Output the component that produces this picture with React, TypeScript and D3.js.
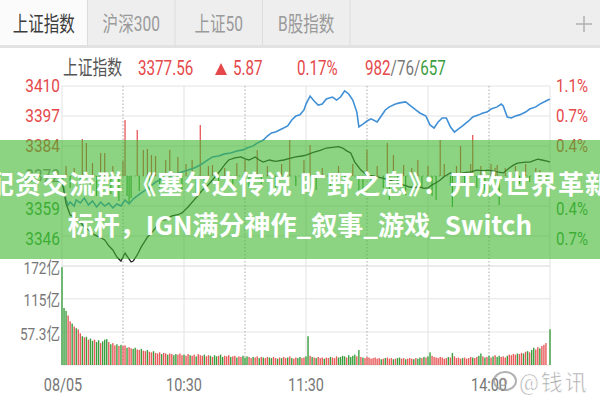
import React from "react";
import * as d3 from "d3";

// ---- data -----------------------------------------------------------
const tabLabels = ["上证指数", "沪深300", "上证50", "B股指数"];

const indexName = "上证指数";
const prevClose = 3371.69;
const lastPrice = 3377.56;
const change = 5.87;
const changePct = "0.17%";
const breadth = { up: "982", flat: "76", down: "657" };

const priceTickLabels = ["3410", "3397", "3384", "3372", "3359", "3346", ""];
const pctTickLabels = ["1.1%", "0.7%", "0.4%", "", "0.4%", "0.7%", ""];
const volumeTicks = [172, 115, 57.3];
const volumeTickLabels = ["172亿", "115亿", "57.3亿"];
const timeTickMinutes = [0, 60, 120, 210];
const timeTickLabels = ["08/05", "10:30", "11:30", "14:00"];

// index price, [minute from 09:30, value]
const indexSeries: [number, number][] = [
  [0, 3369.5], [2, 3360.0], [4, 3355.1], [6, 3354.2], [9, 3352.1], [11, 3350.0],
  [13, 3348.7], [16, 3346.6], [19, 3345.5], [21, 3344.5], [23, 3342.0], [25, 3340.2],
  [27, 3337.2], [29, 3335.5], [31, 3338.9], [32, 3337.6], [34, 3335.1], [35, 3335.5],
  [37, 3338.1], [39, 3341.5], [42, 3345.7], [44, 3347.5], [46, 3349.6], [48, 3353.0],
  [51, 3353.0], [54, 3354.7], [57, 3355.2], [59, 3356.0], [62, 3358.5], [65, 3361.5],
  [67, 3363.5], [69, 3365.7], [72, 3368.0], [74, 3370.0], [76, 3372.0], [78, 3374.2],
  [80, 3376.5], [82, 3378.5], [85, 3379.4], [88, 3379.8], [90, 3379.0], [92, 3378.5],
  [95, 3379.8], [97, 3378.5], [99, 3377.6], [102, 3378.5], [105, 3377.9], [109, 3378.5],
  [112, 3379.2], [115, 3379.8], [118, 3380.2], [120, 3380.6], [122, 3381.2], [124, 3381.9],
  [127, 3382.6], [130, 3383.6], [134, 3384.0], [136, 3384.2], [138, 3383.6], [140, 3382.4],
  [142, 3381.5], [144, 3377.6], [147, 3374.2], [150, 3372.1], [153, 3371.7], [155, 3371.3],
  [158, 3370.7], [161, 3370.0], [164, 3369.0], [166, 3368.3], [169, 3367.6], [171, 3367.0],
  [174, 3366.8], [176, 3367.0], [178, 3366.4], [180, 3366.6], [182, 3367.9], [184, 3368.8],
  [186, 3370.0], [188, 3371.5], [191, 3373.0], [194, 3372.1], [197, 3373.0], [201, 3373.4],
  [204, 3374.2], [207, 3374.0], [210, 3374.2], [214, 3373.4], [217, 3373.0], [220, 3375.1],
  [222, 3376.3], [224, 3377.2], [228, 3377.6], [230, 3377.6], [234, 3378.9], [236, 3378.5],
  [239, 3377.9], [240, 3377.56],
];

// leading (unweighted) line, [minute, value]
const leadSeries: [number, number][] = [
  [0, 3371.7], [1, 3365.7], [2, 3361.5], [3, 3359.3], [4, 3360.6], [6, 3358.9],
  [7, 3361.5], [9, 3360.2], [11, 3362.3], [13, 3359.4], [15, 3361.1], [17, 3358.5],
  [19, 3360.6], [21, 3358.9], [23, 3360.2], [25, 3358.1], [27, 3359.8], [29, 3358.9],
  [31, 3361.5], [33, 3359.8], [35, 3361.9], [37, 3363.2], [39, 3364.5], [41, 3365.7],
  [43, 3367.0], [46, 3369.1], [48, 3370.0], [51, 3370.8], [53, 3371.7], [56, 3372.5],
  [59, 3373.4], [62, 3374.2], [65, 3375.1], [68, 3376.4], [71, 3378.1], [74, 3379.8],
  [77, 3380.2], [80, 3381.1], [83, 3381.5], [86, 3382.3], [89, 3382.8], [91, 3383.6],
  [94, 3384.5], [96, 3385.7], [99, 3387.0], [101, 3388.7], [103, 3390.0], [105, 3390.4],
  [107, 3391.3], [109, 3392.1], [111, 3393.0], [113, 3395.5], [115, 3397.2], [117, 3397.7],
  [119, 3399.8], [120, 3402.3], [122, 3405.7], [124, 3403.6], [126, 3401.9], [128, 3402.3],
  [130, 3404.5], [133, 3405.3], [135, 3404.0], [137, 3405.3], [139, 3407.9], [141, 3406.6],
  [143, 3404.0], [145, 3398.9], [146, 3392.6], [148, 3393.8], [150, 3395.1], [152, 3396.0],
  [155, 3394.7], [157, 3397.2], [159, 3399.8], [161, 3401.1], [164, 3402.3], [166, 3402.8],
  [169, 3403.2], [171, 3401.9], [174, 3399.8], [176, 3398.5], [179, 3397.2], [181, 3393.4],
  [183, 3392.1], [185, 3394.7], [187, 3396.4], [189, 3396.4], [191, 3392.6], [193, 3390.4],
  [195, 3391.7], [197, 3393.0], [200, 3395.1], [202, 3396.8], [205, 3397.7], [207, 3398.5],
  [209, 3398.9], [211, 3400.2], [214, 3401.1], [216, 3402.3], [217, 3401.5], [219, 3396.8],
  [221, 3396.4], [223, 3397.2], [225, 3397.7], [228, 3398.9], [230, 3400.2], [233, 3401.1],
  [235, 3402.3], [237, 3403.2], [239, 3404.0], [240, 3404.4],
];

// buy/sell strength bars, [minute, value]
const strengthBars: [number, number][] = [
  [2, 10], [4, -12], [6, 8], [9, -15], [10, 37], [12, 33], [14, -10], [15, 13], [17, -20],
  [19, 23], [21, 23], [24, -18], [25, 10], [28, -25], [30, 15], [31, 56], [32, -20], [33, -28],
  [34, -22], [37, 46], [38, -15], [40, 26], [42, 27], [43, -14], [44, 21], [46, 20], [48, -12],
  [51, 16], [53, 26], [55, -10], [57, 19], [59, -14], [61, 12], [64, 16], [66, -20], [68, 51],
  [70, -12], [72, 10], [74, 11], [77, -15], [80, 8], [84, -10], [86, 13], [90, 16], [92, -12],
  [96, 26], [98, -8], [101, 10], [105, -14], [108, 12], [112, 36], [115, -10], [119, 16],
  [122, 31], [125, -14], [128, 8], [132, -10], [136, 10], [139, -8], [143, 12], [146, -16],
  [148, -19], [150, 26], [152, -10], [155, 10], [158, -12], [160, 33], [161, -24], [163, 21],
  [165, -8], [168, 11], [169, -19], [172, 8], [175, 16], [177, -12], [180, 10], [182, -20],
  [184, -24], [186, 36], [188, 12], [191, -10], [192, -31], [194, 10], [196, 30], [198, -8],
  [201, 12], [202, 41], [204, -12], [206, 10], [208, -15], [211, 12], [213, 8], [214, 11],
  [215, -29], [218, 8], [220, -10], [223, 10], [225, -8], [228, 12], [230, -6], [233, 8],
  [235, 6], [238, -5],
];

// per-minute turnover (亿), 241 minutes
const volumeValues = [
  170, 99, 94, 86, 76, 72, 67, 64, 62, 55,
  50, 48, 49, 44, 46, 42, 44, 40, 43, 38,
  41, 44, 45, 40, 36, 38, 34, 36, 33, 35,
  33, 34, 30, 31, 29, 28, 30, 27, 26, 28,
  25, 24, 26, 23, 22, 24, 21, 20, 22, 19,
  21, 20, 18, 20, 19, 17, 19, 18, 20, 17,
  18, 16, 19, 17, 16, 18, 15, 19, 17, 16,
  18, 15, 17, 16, 14, 17, 15, 16, 18, 14,
  16, 15, 17, 14, 15, 16, 13, 15, 14, 16,
  13, 15, 14, 12, 14, 13, 15, 12, 14, 13,
  12, 14, 13, 12, 14, 12, 11, 13, 12, 14,
  12, 13, 15, 12, 11, 13, 12, 14, 12, 13,
  15, 50, 16, 14, 13, 12, 14, 12, 13, 11,
  13, 12, 14, 13, 12, 15, 13, 14, 16, 15,
  13, 17, 14, 16, 18, 15, 26, 14, 13, 12,
  14, 13, 11, 12, 13, 11, 12, 10, 11, 12,
  13, 11, 12, 10, 11, 12, 13, 11, 12, 10,
  11, 12, 11, 10, 12, 11, 13, 12, 14, 13,
  15, 22, 16, 14, 13, 12, 14, 13, 11, 12,
  14, 13, 21, 15, 12, 13, 11, 12, 13, 11,
  12, 14, 13, 12, 14, 16, 20, 15, 13, 14,
  16, 13, 15, 17, 14, 16, 14, 15, 13, 16,
  18, 17, 19, 18, 20, 19, 21, 20, 23, 24,
  22, 26, 30, 27, 31, 29, 33, 35, 38, 0,
  62,
];
// r = up minute, g = down minute
const volumeSides =
  "gggrrgrgrr" + "grgrggrggr" + "gggrgrrgrg" + "rrgrrggrrg" + "rrgrrgrrrg" +
  "rrgrrggrrr" + "grrgrrgrrr" + "grrgrggrgg" + "rrrgrrgrrg" + "ggrrgrrgrg" +
  "rrggrrgrgr" + "rgrgrrggrr" + "ggrgrgrrrg" + "rrgrrrgggg" + "rggggrgrgr" +
  "rrrrrrrgrg" + "rrrgrggrrg" + "rrrgrggrgr" + "ggrrrrrrrr" + "grgrrrrgrr" +
  "rrgrrggrgr" + "grgrggrrrg" + "rrrrgrrgrg" + "rggrrgrrrr" + "g";

const bannerLines = [
  "配资交流群 《塞尔达传说 旷野之息》：开放世界革新",
  "标杆，IGN满分神作_叙事_游戏_Switch",
];

// ---- layout ---------------------------------------------------------
const W = 600;
const H = 400;
const left = 62;
const right = 550;
const priceTop = 86;
const priceBottom = 266;
const volBottom = 365;

const RED = "#e5484a";
const GREEN = "#3a9e3e";
const FONT = "Roboto, 'Noto Sans CJK SC', sans-serif";

type NTProps = {
  x: number;
  y: number;
  sx?: number;
  size: number;
  fill: string;
  anchor?: "start" | "middle" | "end";
  weight?: number | string;
  children: React.ReactNode;
};

// text squeezed horizontally, like the app's narrow UI font
const NText = ({ x, y, sx = 0.76, size, fill, anchor = "start", weight, children }: NTProps) => (
  <text
    transform={`translate(${x},${y}) scale(${sx},1)`}
    fontSize={size}
    fill={fill}
    textAnchor={anchor}
    dominantBaseline="central"
    fontWeight={weight}
  >
    {children}
  </text>
);

export default function App() {
  const x = d3.scaleLinear().domain([0, 240]).range([left, right]);
  const span = 38.3;
  const yPrice = d3
    .scaleLinear()
    .domain([prevClose - span, prevClose + span])
    .range([priceBottom, priceTop]);
  const yStrength = d3.scaleLinear().domain([-90, 90]).range([priceBottom, priceTop]);
  const yVol = d3.scaleLinear().domain([0, 172]).range([volBottom, priceBottom]);

  const gridValues = d3.range(7).map((i) => prevClose + span - (i * span) / 3);
  const line = d3
    .line<[number, number]>()
    .x((d) => x(d[0]))
    .y((d) => yPrice(d[1]));

  const vMinutes = d3.range(0, 241, 30);
  const dotted = new Set([30, 90, 150, 210]);

  const tabW = 87.5;

  return (
    <svg
      width={W}
      height={H}
      viewBox={`0 0 ${W} ${H}`}
      style={{ position: "fixed", left: 0, top: 0, display: "block", background: "#fff" }}
      fontFamily={FONT}
    >
      <rect x={0} y={0} width={W} height={H} fill="#fff" />

      {/* tab bar */}
      <rect x={0} y={0} width={W} height={45} fill="#eeeeee" />
      <rect x={0} y={0} width={tabW} height={45} fill="#fbfbfb" />
      <rect x={0} y={45} width={W} height={3} fill="#e2e2e2" />
      {tabLabels.map((t, i) => (
        <g key={t}>
          <line x1={tabW * (i + 1)} x2={tabW * (i + 1)} y1={0} y2={45} stroke="#dcdcdc" />
          <NText x={tabW * i + tabW / 2} y={24} sx={0.74} size={21} fill={i === 0 ? "#3c3c3c" : "#9a9a9a"} anchor="middle">
            {t}
          </NText>
        </g>
      ))}
      <line x1={576} x2={592} y1={24} y2={24} stroke="#b0b0b0" strokeWidth={1.5} />
      <line x1={584} x2={584} y1={16} y2={32} stroke="#b0b0b0" strokeWidth={1.5} />

      {/* quote header */}
      <NText x={63} y={68} sx={0.74} size={20} fill="#555">{indexName}</NText>
      <NText x={138} y={68} sx={0.76} size={20} fill={RED}>{lastPrice.toFixed(2)}</NText>
      <path d="M215,75 L227,75 L221,63 Z" fill={RED} />
      <NText x={233} y={68} sx={0.76} size={20} fill={RED}>{change.toFixed(2)}</NText>
      <NText x={297} y={68} sx={0.76} size={20} fill={RED}>{changePct}</NText>
      <text transform="translate(365,68) scale(0.76,1)" fontSize={20} dominantBaseline="central">
        <tspan fill={RED}>{breadth.up}</tspan>
        <tspan fill="#777">/{breadth.flat}/</tspan>
        <tspan fill={GREEN}>{breadth.down}</tspan>
      </text>

      {/* price panel grid */}
      {gridValues.map((v, i) => (
        <line
          key={`h${i}`}
          x1={left}
          x2={right}
          y1={yPrice(v)}
          y2={yPrice(v)}
          stroke={i === 3 ? "#bbb" : "#e4e4e4"}
          strokeDasharray={i === 3 ? "2,2" : undefined}
        />
      ))}
      {volumeTicks.map((v) => (
        <line key={`vh${v}`} x1={left} x2={right} y1={yVol(v)} y2={yVol(v)} stroke="#e4e4e4" />
      ))}
      <line x1={left} x2={right} y1={volBottom} y2={volBottom} stroke="#e4e4e4" />
      {vMinutes.map((m) => (
        <line
          key={`v${m}`}
          x1={x(m)}
          x2={x(m)}
          y1={priceTop}
          y2={volBottom}
          stroke={dotted.has(m) ? "#aaa" : "#e2e2e2"}
          strokeDasharray={dotted.has(m) ? "1.5,2" : undefined}
        />
      ))}

      {/* strength bars */}
      {strengthBars.map(([m, v]) => (
        <line
          key={`s${m}`}
          x1={x(m)}
          x2={x(m)}
          y1={yStrength(0)}
          y2={yStrength(v)}
          stroke={v >= 0 ? RED : GREEN}
          strokeWidth={1.2}
        />
      ))}

      {/* lines */}
      <path d={line(leadSeries) ?? ""} fill="none" stroke="#3f8fd6" strokeWidth={1.6} />
      <path d={line(indexSeries) ?? ""} fill="none" stroke="#262626" strokeWidth={1.3} />

      {/* volume bars */}
      {volumeValues.map((v, i) =>
        v > 0 ? (
          <rect
            key={`vb${i}`}
            x={x(i) - 0.7}
            y={yVol(v)}
            width={1.4}
            height={yVol(0) - yVol(v)}
            fill={volumeSides[i] === "r" ? "#e85a5a" : GREEN}
          />
        ) : null
      )}

      {/* axis labels */}
      {gridValues.map((v, i) => {
        const yy = yPrice(v) + (i > 3 ? 3 : 0);
        const color = i < 3 ? RED : i > 3 ? GREEN : "#888";
        return (
          <g key={`pl${i}`}>
            {priceTickLabels[i] && (
              <NText x={60} y={yy} sx={0.86} size={18} fill={color} anchor="end">
                {priceTickLabels[i]}
              </NText>
            )}
            {pctTickLabels[i] && (
              <NText x={556} y={yy} sx={0.84} size={18} fill={color}>
                {pctTickLabels[i]}
              </NText>
            )}
          </g>
        );
      })}
      {volumeTicks.map((v, i) => (
        <NText key={`vl${v}`} x={60} y={yVol(v) + 2} sx={0.8} size={17} fill="#777" anchor="end">
          {volumeTickLabels[i]}
        </NText>
      ))}
      {timeTickMinutes.map((m, i) => (
        <NText key={`t${m}`} x={x(m) + (i === 0 ? 1 : 0)} y={384} sx={0.76} size={19} fill="#777" anchor="middle">
          {timeTickLabels[i]}
        </NText>
      ))}

      {/* weibo watermark */}
      <g opacity={0.75}>
        <ellipse cx={505} cy={381} rx={11} ry={9} fill="none" stroke="#999" strokeWidth={2} />
        <circle cx={503} cy={382} r={3.5} fill="none" stroke="#999" strokeWidth={1.5} />
        <text
          x={519}
          y={382}
          fontSize={22}
          fill="#8a8a8a"
          stroke="#fff"
          strokeWidth={0.6}
          letterSpacing={2}
          dominantBaseline="central"
        >
          @钱讯
        </text>
      </g>

      {/* caption banner */}
      <rect x={0} y={140} width={W} height={119} fill="rgb(63,183,47)" opacity={0.6} />
      {bannerLines.map((t, i) => (
        <text
          key={`b${i}`}
          x={300}
          y={182 + i * 41}
          fontSize={26}
          fontWeight={700}
          fill="#fff"
          textAnchor="middle"
          letterSpacing={i === 0 ? 1.1 : 0}
          dominantBaseline="central"
          fontFamily="'Noto Sans CJK SC', sans-serif"
        >
          {t}
        </text>
      ))}
    </svg>
  );
}
